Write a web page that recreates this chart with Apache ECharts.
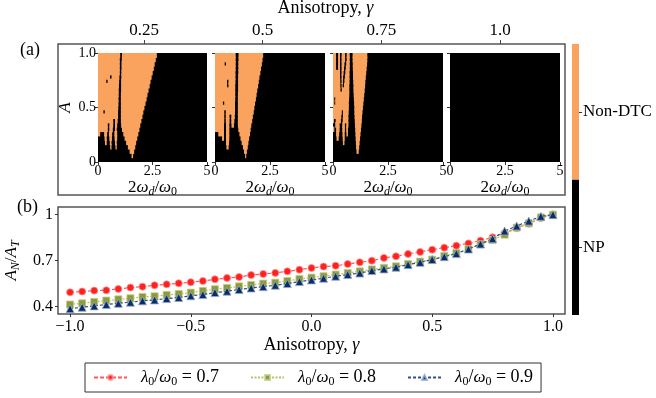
<!DOCTYPE html>
<html><head><meta charset="utf-8">
<script src="https://cdn.jsdelivr.net/npm/echarts@6/dist/echarts.min.js"></script>
<style>html,body{margin:0;padding:0;background:#fff}#c{width:656px;height:398px}</style>
</head><body><div id="c"></div><script>
// ---------------- data ----------------
const GAMMA = [-1.00,-0.95,-0.90,-0.85,-0.80,-0.75,-0.70,-0.65,-0.60,-0.55,-0.50,-0.45,-0.40,-0.35,-0.30,-0.25,-0.20,-0.15,-0.10,-0.05,
  0.00,0.05,0.10,0.15,0.20,0.25,0.30,0.35,0.40,0.45,0.50,0.55,0.60,0.65,0.70,0.75,0.80,0.85,0.90,0.95,1.00];
const RATIO_07 = [0.492,0.497,0.503,0.505,0.514,0.523,0.529,0.538,0.544,0.551,0.558,0.566,0.577,0.586,0.592,0.605,0.612,0.619,0.629,0.640,
  0.651,0.660,0.666,0.677,0.688,0.699,0.717,0.727,0.743,0.756,0.771,0.784,0.797,0.812,0.830,0.852,0.880,0.913,0.941,0.978,1.000];
const RATIO_08 = [0.412,0.420,0.429,0.438,0.446,0.453,0.462,0.466,0.475,0.481,0.490,0.501,0.512,0.520,0.531,0.540,0.549,0.555,0.566,0.579,
  0.588,0.597,0.608,0.618,0.629,0.642,0.652,0.662,0.677,0.693,0.706,0.730,0.749,0.775,0.806,0.834,0.869,0.915,0.943,0.982,1.000];
const RATIO_09 = [0.385,0.394,0.403,0.412,0.420,0.427,0.436,0.442,0.451,0.458,0.469,0.477,0.490,0.499,0.510,0.520,0.529,0.538,0.549,0.562,
  0.573,0.584,0.597,0.608,0.618,0.634,0.645,0.656,0.673,0.688,0.706,0.725,0.745,0.775,0.808,0.843,0.893,0.926,0.958,0.989,1.000];
const LAMBDAS = ['0.7','0.8','0.9'];
const TOP_GAMMA_TICKS = [0.25,0.5,0.75,1.0];
const TOP_GAMMA_LABELS = ['0.25','0.5','0.75','1.0'];
const BOTTOM_X_TICKS = [-1,-0.5,0,0.5,1];
const BOTTOM_Y_TICKS = [0.4,0.7,1];
const PHASES = ['NP','Non-DTC'];
// phase diagram rows (A value of each row, top to bottom) and Non-DTC intervals of 2ωd/ω0 per row
const ROW_A = [0.98,0.94,0.90,0.86,0.82,0.78,0.74,0.70,0.66,0.62,0.58,0.54,0.50,0.46,0.42,0.38,0.34,0.30,0.26,0.22,0.18,0.14,0.10,0.06,0.02];
const ROW_H = 0.04;
const NONDTC_G025 = [
 [[0,1.02],[1.10,2.70]],
 [[0,1.00],[1.09,2.65]],
 [[0,1.00],[1.08,2.60]],
 [[0,1.00],[1.08,2.56]],
 [[0,1.00],[1.07,2.51]],
 [[0,0.55],[0.62,0.98],[1.07,2.46]],
 [[0,0.38],[0.44,0.97],[1.06,2.41]],
 [[0,0.96],[1.06,2.37]],
 [[0,0.95],[1.06,2.32]],
 [[0,0.95],[1.05,2.27]],
 [[0,0.94],[1.05,2.23]],
 [[0,0.94],[1.05,2.18]],
 [[0,0.93],[1.05,2.13]],
 [[0,0.25],[0.31,0.92],[1.05,2.08]],
 [[0,0.92],[1.05,2.04]],
 [[0,0.70],[0.78,0.90],[1.05,1.99]],
 [[0,0.45],[0.52,0.70],[0.78,0.88],[1.06,1.94]],
 [[0,0.45],[0.52,0.68],[0.78,0.86],[1.10,1.90]],
 [[0,0.10],[0.28,0.42],[0.50,0.65],[0.75,0.88],[1.16,1.85]],
 [[0.30,0.40],[0.52,0.64],[0.76,0.88],[1.22,1.80]],
 [[0.32,0.40],[0.54,0.62],[0.78,0.86],[1.29,1.75]],
 [[0.56,0.62],[0.80,0.86],[1.37,1.71]],
 [[1.45,1.66]],
 [[1.54,1.61]],
 []
];
const NONDTC_G050 = [
 [[0,0.94],[1.07,2.19]],
 [[0,0.94],[1.07,2.16]],
 [[0,0.44],[0.50,0.94],[1.06,2.13]],
 [[0,0.94],[1.06,2.09]],
 [[0,0.93],[1.06,2.06]],
 [[0,0.93],[1.05,2.02]],
 [[0,0.55],[0.61,0.93],[1.05,1.99]],
 [[0,0.55],[0.61,0.92],[1.05,1.96]],
 [[0,0.92],[1.05,1.92]],
 [[0,0.92],[1.04,1.89]],
 [[0,0.92],[1.04,1.86]],
 [[0,0.36],[0.42,0.91],[1.04,1.82]],
 [[0,0.91],[1.04,1.79]],
 [[0,0.42],[0.49,0.91],[1.04,1.76]],
 [[0,0.42],[0.49,0.66],[0.74,0.90],[1.04,1.72]],
 [[0,0.42],[0.49,0.66],[0.74,0.88],[1.04,1.69]],
 [[0,0.41],[0.50,0.65],[0.75,0.86],[1.04,1.65]],
 [[0,0.41],[0.50,0.65],[1.06,1.62]],
 [[0.15,0.41],[0.50,0.65],[1.11,1.59]],
 [[0.32,0.41],[0.50,0.65],[1.16,1.55]],
 [[0.50,0.64],[1.21,1.52]],
 [[0.52,0.62],[1.27,1.49]],
 [[1.32,1.45]],
 [[1.37,1.42]],
 []
];
const NONDTC_G075 = [
 [[0,0.14],[0.23,0.32],[0.39,0.55],[0.62,0.76],[0.89,1.56]],
 [[0,0.14],[0.23,0.32],[0.39,0.55],[0.62,0.76],[0.89,1.56]],
 [[0,0.14],[0.23,0.32],[0.39,0.52],[0.60,0.76],[0.90,1.55]],
 [[0,0.14],[0.23,0.32],[0.39,0.50],[0.58,0.76],[0.90,1.53]],
 [[0,0.32],[0.39,0.48],[0.56,0.75],[0.91,1.51]],
 [[0,0.32],[0.39,0.46],[0.54,0.75],[0.91,1.49]],
 [[0,0.33],[0.39,0.45],[0.52,0.75],[0.92,1.47]],
 [[0,0.33],[0.39,0.44],[0.50,0.74],[0.93,1.46]],
 [[0,0.34],[0.40,0.74],[0.93,1.44]],
 [[0,0.74],[0.94,1.42]],
 [[0,0.06],[0.10,0.73],[0.95,1.40]],
 [[0,0.06],[0.10,0.72],[0.96,1.38]],
 [[0,0.72],[0.97,1.36]],
 [[0,0.40],[0.45,0.71],[0.97,1.34]],
 [[0,0.38],[0.45,0.70],[0.98,1.32]],
 [[0,0.05],[0.12,0.36],[0.44,0.70],[0.99,1.31]],
 [[0.10,0.30],[0.42,0.54],[0.60,0.70],[1.00,1.29]],
 [[0,0.06],[0.14,0.30],[0.42,0.54],[0.60,0.68],[1.01,1.27]],
 [[0.14,0.28],[0.43,0.53],[0.61,0.68],[1.02,1.25]],
 [[0.16,0.26],[0.44,0.53],[1.03,1.23]],
 [[0.45,0.52],[1.04,1.21]],
 [[1.05,1.19]],
 [[1.07,1.17]],
 [],
 []
];
const NONDTC_G100 = [];

// ---------------- chart ----------------
const SERIF = '"Liberation Serif","Times New Roman",serif';
const ORANGE = '#f9a35e';
const RICH = {
  i:  {fontFamily: SERIF, fontStyle: 'italic', fontSize: 18, color: '#000', lineHeight: 22},
  s:  {fontFamily: SERIF, fontSize: 12, color: '#000', lineHeight: 12, verticalAlign: 'bottom'},
  si: {fontFamily: SERIF, fontStyle: 'italic', fontSize: 12, color: '#000', lineHeight: 12, verticalAlign: 'bottom'}
};
const RICH17 = {
  i:  {fontFamily: SERIF, fontStyle: 'italic', fontSize: 17, color: '#000', lineHeight: 21},
  s:  {fontFamily: SERIF, fontSize: 12, color: '#000', lineHeight: 12, verticalAlign: 'bottom'},
  si: {fontFamily: SERIF, fontStyle: 'italic', fontSize: 12, color: '#000', lineHeight: 12, verticalAlign: 'bottom'}
};
const txt = (size, extra) => Object.assign({fontFamily: SERIF, fontSize: size, color: '#000'}, extra || {});
const pick = (ticks, labels) => v => { const k = ticks.findIndex(t => Math.abs(t - v) < 1e-6); return k < 0 ? '' : labels[k]; };
const minusFmt = v => (v < 0 ? '\u2212' + Math.abs(v).toFixed(1) : v.toFixed(1));
const TICK = {length: 3, lineStyle: {color: '#333'}};

const PANELS = [
  {left: 98, width: 109, rows: NONDTC_G025},
  {left: 215, width: 110, rows: NONDTC_G050},
  {left: 333, width: 110, rows: NONDTC_G075},
  {left: 450, width: 110, rows: NONDTC_G100}
];

const grids = [
  {left: 58, top: 44, width: 507, height: 151, show: true, borderColor: '#555', borderWidth: 1.5, backgroundColor: 'transparent', outerBoundsMode: 'none'}
];
const xAxes = [{
  gridIndex: 0, type: 'value', position: 'top', min: 0.0688, max: 1.1369,
  axisLine: {show: false, onZero: false}, splitLine: {show: false},
  axisTick: {customValues: TOP_GAMMA_TICKS, length: 4, lineStyle: {color: '#444'}},
  axisLabel: {customValues: TOP_GAMMA_TICKS, formatter: pick(TOP_GAMMA_TICKS, TOP_GAMMA_LABELS), margin: 5, ...txt(17)},
  name: 'Anisotropy, {i|γ}', nameLocation: 'middle', nameGap: 25,
  nameTextStyle: {...txt(18), rich: RICH, padding: [0, 0, 0, 28]}
}];
const yAxes = [{gridIndex: 0, type: 'value', min: 0, max: 1, show: false}];
const series = [];

PANELS.forEach((p, k) => {
  const gi = k + 1;
  grids.push({left: p.left, top: 53, width: p.width, height: 109, show: true, backgroundColor: '#000', borderWidth: 0, outerBoundsMode: 'none'});
  xAxes.push({
    gridIndex: gi, type: 'value', min: 0, max: 5, interval: 2.5,
    axisLine: {show: false, onZero: false}, splitLine: {show: false},
    axisTick: {show: true, ...TICK},
    axisLabel: {margin: 2, formatter: v => (v === 2.5 ? '2.5' : String(v)), ...txt(14)},
    name: '2{i|ω}{si|d}/{i|ω}{s|0}', nameLocation: 'middle', nameGap: 13,
    nameTextStyle: {...txt(17), rich: RICH17}
  });
  yAxes.push({
    gridIndex: gi, type: 'value', min: 0, max: 1, interval: 0.5,
    axisLine: {show: false, onZero: false}, splitLine: {show: false},
    axisTick: {show: true, ...TICK},
    axisLabel: {show: k === 0, margin: 2, formatter: v => (v === 0 ? '0' : v.toFixed(1)), ...txt(14)},
    name: k === 0 ? '{i|A}' : '', nameLocation: 'middle', nameGap: 22, nameRotate: 90,
    nameTextStyle: {...txt(17), rich: RICH17}
  });
  const data = [];
  p.rows.forEach((row, r) => (row || []).forEach(iv => data.push([iv[0], iv[1], ROW_A[r]])));
  if (data.length) {
    series.push({
      type: 'custom', xAxisIndex: gi, yAxisIndex: gi, data, clip: true, silent: true,
      encode: {x: [0, 1], y: 2},
      renderItem: (params, api) => {
        const a = api.value(2);
        const p0 = api.coord([api.value(0), a + ROW_H / 2]);
        const p1 = api.coord([api.value(1), a - ROW_H / 2]);
        // slight overlap between neighbouring rows hides anti-aliasing seams
        return {type: 'rect', shape: {x: p0[0], y: p0[1] - 0.6, width: p1[0] - p0[0], height: p1[1] - p0[1] + 1.2},
                style: {fill: ORANGE}};
      }
    });
  }
});

// panel (b)
grids.push({left: 58, top: 207, width: 507, height: 107, show: true, borderColor: '#555', borderWidth: 1.5, backgroundColor: 'transparent', outerBoundsMode: 'none'});
xAxes.push({
  gridIndex: 5, type: 'value', min: -1.05, max: 1.05,
  axisLine: {show: false, onZero: false}, splitLine: {show: false},
  axisTick: {customValues: BOTTOM_X_TICKS, ...TICK},
  axisLabel: {customValues: BOTTOM_X_TICKS, formatter: minusFmt, margin: 5, ...txt(16)},
  name: 'Anisotropy, {i|γ}', nameLocation: 'middle', nameGap: 14,
  nameTextStyle: {...txt(18), rich: RICH}
});
yAxes.push({
  gridIndex: 5, type: 'value', min: 0.35, max: 1.05,
  axisLine: {show: false, onZero: false}, splitLine: {show: false},
  axisTick: {customValues: BOTTOM_Y_TICKS, ...TICK},
  axisLabel: {customValues: BOTTOM_Y_TICKS, formatter: v => (Math.abs(v - 1) < 1e-6 ? '1' : v.toFixed(1)), margin: 5, ...txt(16)},
  name: '{i|A}{si|N}/{i|A}{si|T}', nameLocation: 'middle', nameGap: 32, nameRotate: 90,
  nameTextStyle: {...txt(17), rich: RICH17}
});

// colour bar
grids.push({left: 572, top: 44, width: 7, height: 271, show: false, outerBoundsMode: 'none'});
xAxes.push({gridIndex: 6, type: 'value', min: 0, max: 1, show: false});
yAxes.push({
  gridIndex: 6, type: 'category', data: PHASES, position: 'right',
  axisLine: {show: false, onZero: false}, splitLine: {show: false},
  axisTick: {show: true, alignWithLabel: true, ...TICK},
  axisLabel: {margin: 4, ...txt(17)}
});
series.push({
  type: 'bar', xAxisIndex: 6, yAxisIndex: 6, silent: true, barWidth: '100%', barCategoryGap: '0%',
  data: [{value: 1, itemStyle: {color: '#000'}}, {value: 1, itemStyle: {color: ORANGE}}]
});

const STYLES = [
  {values: RATIO_07, symbol: 'circle', size: 7, color: '#ff2020', border: 'rgba(255,140,140,0.8)', line: '#ff5a5a', dash: [4, 2]},
  {values: RATIO_08, symbol: 'rect', size: 7, color: '#8c9a3c', border: 'rgba(195,205,130,0.8)', line: '#b6c266', dash: [2, 1.5]},
  {values: RATIO_09, symbol: 'triangle', size: 8, color: '#0c2d63', border: 'rgba(150,170,210,0.8)', line: '#2f4f8c', dash: [3, 2]}
];
const names = LAMBDAS.map(l => 'λ0/ω0 = ' + l);
STYLES.forEach((s, k) => {
  series.push({
    type: 'line', name: names[k], xAxisIndex: 5, yAxisIndex: 5,
    data: GAMMA.map((g, i) => [g, s.values[i]]),
    symbol: s.symbol, symbolSize: s.size, showAllSymbol: true,
    itemStyle: {color: s.color, borderColor: s.border, borderWidth: 1},
    lineStyle: {color: s.line, width: 1.2, type: s.dash},
    z: 3 + k
  });
});

const chart = echarts.init(document.getElementById('c'), null, {renderer: 'canvas'});
chart.setOption({
  animation: false,
  backgroundColor: '#fff',
  title: [
    {text: '(a)', left: 20, top: 41, padding: 0, textStyle: {...txt(18), fontWeight: 'normal'}},
    {text: '(b)', left: 17, top: 198, padding: 0, textStyle: {...txt(18), fontWeight: 'normal'}}
  ],
  legend: {
    data: names, left: 85, top: 363, orient: 'horizontal',
    borderColor: '#333', borderWidth: 1, borderRadius: 0, padding: [4, 8],
    itemGap: 31, itemWidth: 33, itemHeight: 6,
    formatter: n => '{i|λ}{s|0}/{i|ω}{s|0} = ' + n.split('= ')[1],
    textStyle: {...txt(18), lineHeight: 21, padding: [0, 0, 0, 9], rich: RICH17}
  },
  grid: grids, xAxis: xAxes, yAxis: yAxes, series
});
</script></body></html>
